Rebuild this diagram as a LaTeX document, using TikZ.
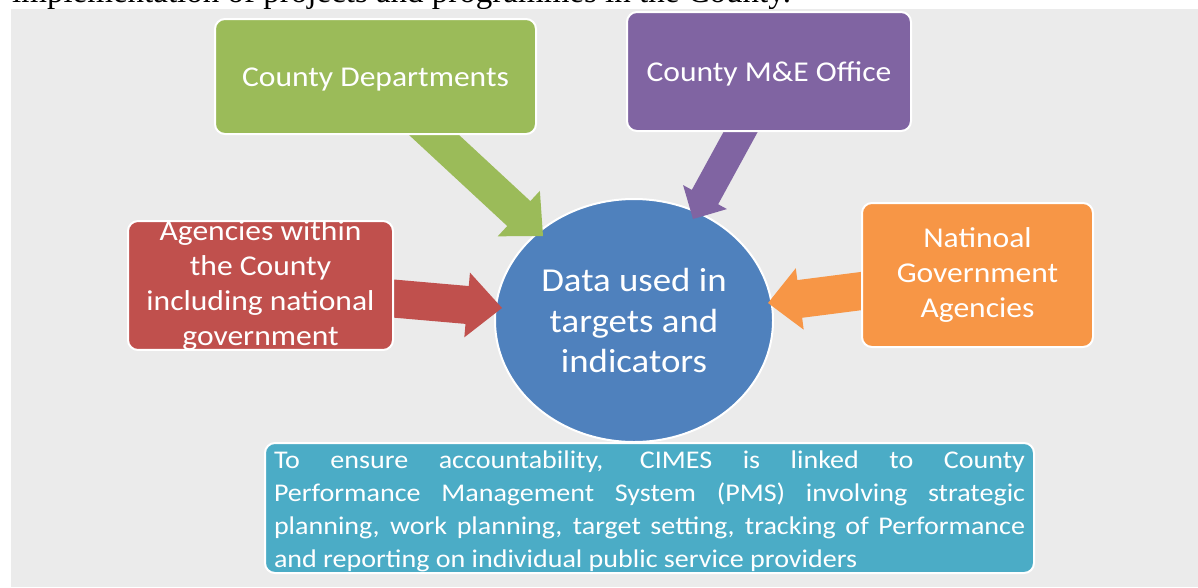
\documentclass[tikz,border=0pt]{standalone}
\usepackage{fontspec}
\setmainfont{Carlito}[FakeStretch=1.1]
\newfontfamily\pageserif{Liberation Serif}
\usetikzlibrary{calc,shapes.geometric}
\definecolor{bggrey}{HTML}{EBEBEB}
\definecolor{cgreen}{HTML}{9BBB59}
\definecolor{cpurple}{HTML}{8064A2}
\definecolor{cred}{HTML}{C0504D}
\definecolor{corange}{HTML}{F79646}
\definecolor{cblue}{HTML}{4F81BD}
\definecolor{cteal}{HTML}{4BACC6}
% block arrow: #1 colour, #2 start, #3 tip, #4 half shaft, #5 head length, #6 half head
\newcommand\blockarrow[6]{%
  \coordinate (ba-c) at ($(#3)!#5!(#2)$);
  \fill[#1] ($(#2)!#4!90:(#3)$) -- ($(ba-c)!#4!-90:(#2)$) -- ($(ba-c)!#6!-90:(#2)$)
    -- (#3) -- ($(ba-c)!#6!90:(#2)$) -- ($(ba-c)!#4!90:(#2)$) -- ($(#2)!#4!-90:(#3)$) -- cycle;
}
\begin{document}
\begin{tikzpicture}[x=1pt,y=-1pt,
  box/.style={rectangle, rounded corners=10pt, draw=white, line width=2pt,
    text=white, align=center, inner sep=0pt,
    font=\fontsize{28.7}{34.7}\selectfont},
  hub/.style={ellipse, fill=cblue, draw=white, line width=2pt, inner sep=0pt,
    text=white, align=center, font=\fontsize{33.5}{40.5}\selectfont},
  note/.style={rectangle, rounded corners=10pt, fill=cteal, draw=white, line width=2pt,
    text=white, align=justify, inner sep=0pt, text width=751pt,
    font=\fontsize{25.5}{33}\selectfont}]
\useasboundingbox (0,0) rectangle (1198,587);
\clip (0,0) rectangle (1198,587);
% cut-off line of the page above the figure
\node[anchor=base west, inner sep=0pt, font=\pageserif\fontsize{33}{33}\selectfont] (pageline) at (12,2)
  {implementation of projects and programmes in the County.};
\fill[bggrey] (11,9) rectangle (1198,587);
% hub
\node[hub, minimum width=278pt, minimum height=243pt] (data) at (634,320.5)
  {Data used in\\targets and\\indicators};
% arrows
\coordinate (gs) at (404.7,107.8); \coordinate (gt) at (543,236);
\coordinate (ps) at (754.4,106.7); \coordinate (pt) at (693,219);
\coordinate (rs) at (370,296.5);   \coordinate (rt) at (502,308);
\coordinate (os) at (885,288);     \coordinate (ot) at (768,303);
\blockarrow{cgreen}{gs}{gt}{17pt}{33pt}{31pt}
\blockarrow{cpurple}{ps}{pt}{15pt}{25pt}{25pt}
\blockarrow{cred}{rs}{rt}{19pt}{35pt}{32.5pt}
\blockarrow{corange}{os}{ot}{19pt}{32pt}{31pt}
% source boxes
\node[box, fill=cgreen, minimum width=321pt, minimum height=115pt] (dept) at (375.5,76.5)
  {\rule[-6pt]{0pt}{31pt}County Departments};
\node[box, fill=cpurple, minimum width=284pt, minimum height=119pt] (me) at (769,71.5)
  {\rule[-6pt]{0pt}{31pt}County M\&E Office};
\node[box, fill=cred, minimum width=265pt, minimum height=127pt] (agencies) at (260.5,285.5)
  {Agencies within\\the County\\including national\\government};
\node[box, fill=corange, minimum width=231pt, minimum height=144pt] (natgov) at (977.5,275)
  {Natinoal\\Government\\Agencies};
% note
\node[note, minimum width=769pt, minimum height=130pt] (pms) at (649.5,508)
  {\noindent\rule{0pt}{24.5pt}To ensure accountability, CIMES is linked to County\linebreak
   Performance Management System (PMS) involving strategic\linebreak
   planning, work planning, target setting, tracking of Performance\linebreak
   and reporting on individual public service providers};
\end{tikzpicture}
\end{document}
